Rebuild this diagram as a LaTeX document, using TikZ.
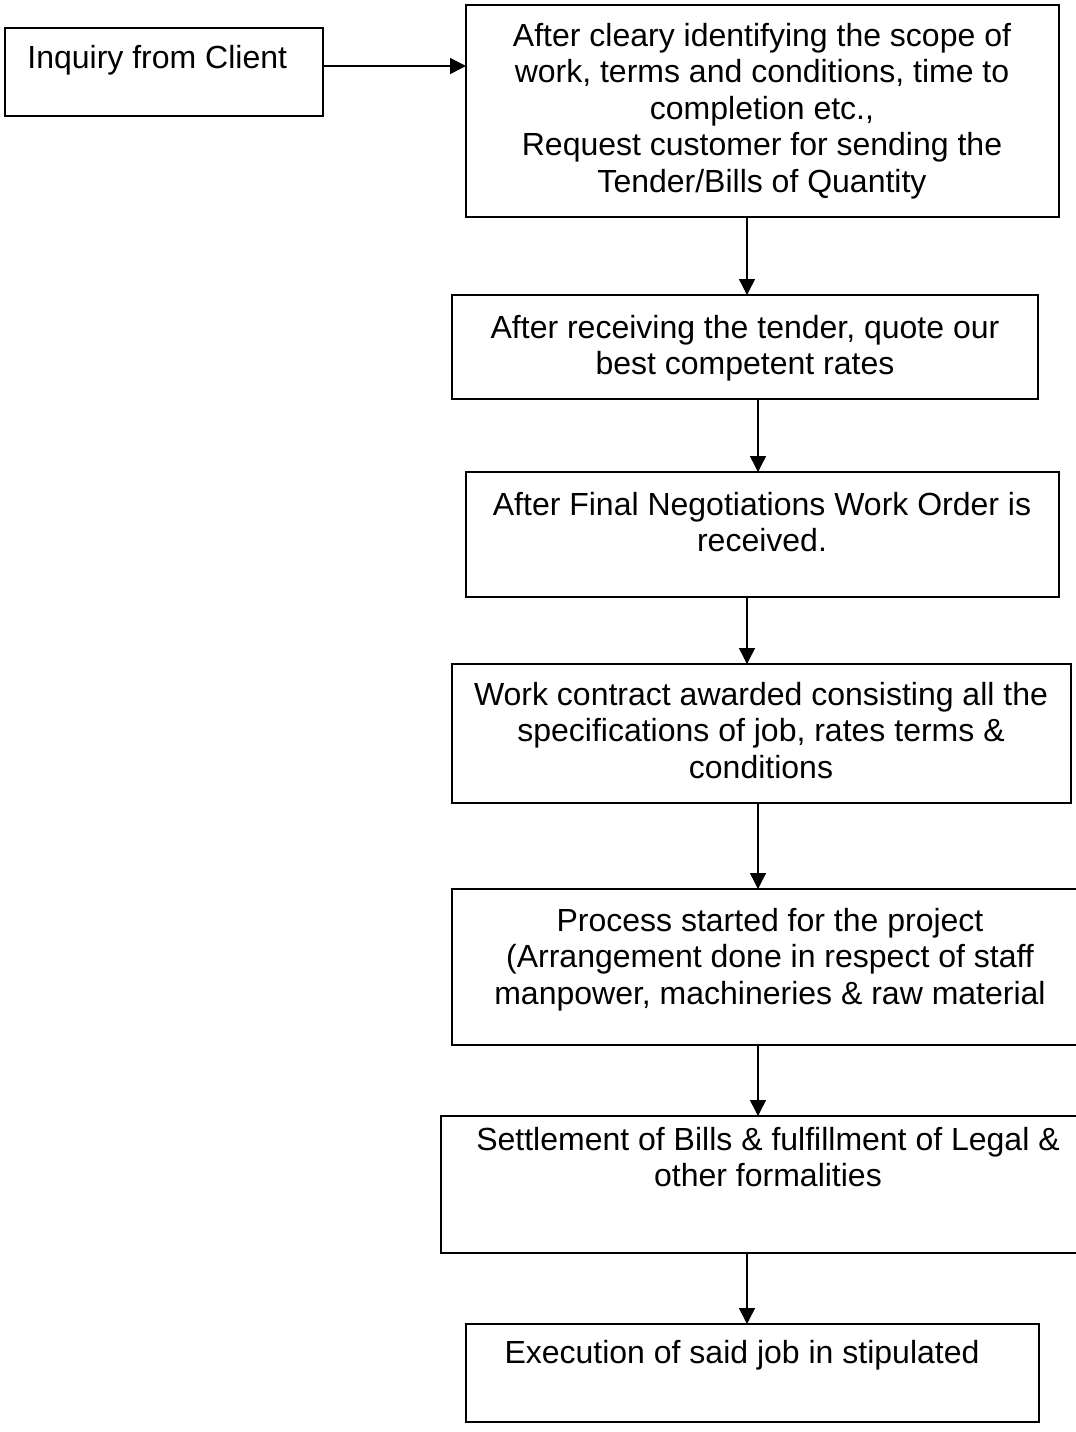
\documentclass[tikz,border=0pt]{standalone}
\usepackage{fontspec}
\setmainfont{Liberation Sans}
\usetikzlibrary{arrows.meta}
\newcommand{\flowbox}[5]{\node[boxstyle, anchor=north west, minimum width={(#4-#2)*0.5pt}, minimum height={(#5-#3)*0.5pt}] (#1) at (#2,#3) {};}
\begin{document}
\begin{tikzpicture}[x=0.5pt,y=-0.5pt,
  boxstyle/.style={draw, line width=1pt, rectangle, inner sep=0pt, outer sep=0pt},
  txt/.style={inner sep=0pt, align=center, font=\fontsize{16}{18.25}\selectfont},
  arr/.style={line width=0.7pt, -{Triangle[length=8pt,width=8pt]}}]
\useasboundingbox (0,0) rectangle (1076,1432);
\flowbox{b1}{5}{28}{323}{116}
\flowbox{b2}{466}{5}{1059}{217}
\flowbox{b3}{452}{295}{1038}{399}
\flowbox{b4}{466}{472}{1059}{597}
\flowbox{b5}{452}{664}{1071}{803}
\flowbox{b6}{452}{889}{1082}{1045}
\flowbox{b7}{441}{1116}{1082}{1253}
\flowbox{b8}{466}{1324}{1039}{1422}

\node[txt, anchor=base west] (t1) at (27,68) {Inquiry from Client};
\node[txt, anchor=north] (t2) at (762,22.5) {After cleary identifying the scope of\\ work, terms and conditions, time to\\ completion etc.,\\ Request customer for sending the\\ Tender/Bills of Quantity};
\node[txt, anchor=north] (t3) at (745,314.5) {After receiving the tender, quote our\\ best competent rates};
\node[txt, anchor=north] (t4) at (762,491.5) {After Final Negotiations Work Order is\\ received.};
\node[txt, anchor=north] (t5) at (761,681.5) {Work contract awarded consisting all the\\ specifications of job, rates terms \&\\ conditions};
\node[txt, anchor=north] (t6) at (770,907.5) {Process started for the project\\ (Arrangement done in respect of staff\\ manpower, machineries \& raw material};
\node[txt, anchor=north] (t7) at (768,1126.5) {Settlement of Bills \& fulfillment of Legal \&\\ other formalities};
\node[txt, anchor=base] (t8) at (742,1363) {Execution of said job in stipulated};

\draw[arr] (b1.east |- 0,66) -- (b2.west |- 0,66);
\draw[arr] (b2.south -| 747,0) -- (b3.north -| 747,0);
\draw[arr] (b3.south -| 758,0) -- (b4.north -| 758,0);
\draw[arr] (b4.south -| 747,0) -- (b5.north -| 747,0);
\draw[arr] (b5.south -| 758,0) -- (b6.north -| 758,0);
\draw[arr] (b6.south -| 758,0) -- (b7.north -| 758,0);
\draw[arr] (b7.south -| 747,0) -- (b8.north -| 747,0);
\end{tikzpicture}
\end{document}
